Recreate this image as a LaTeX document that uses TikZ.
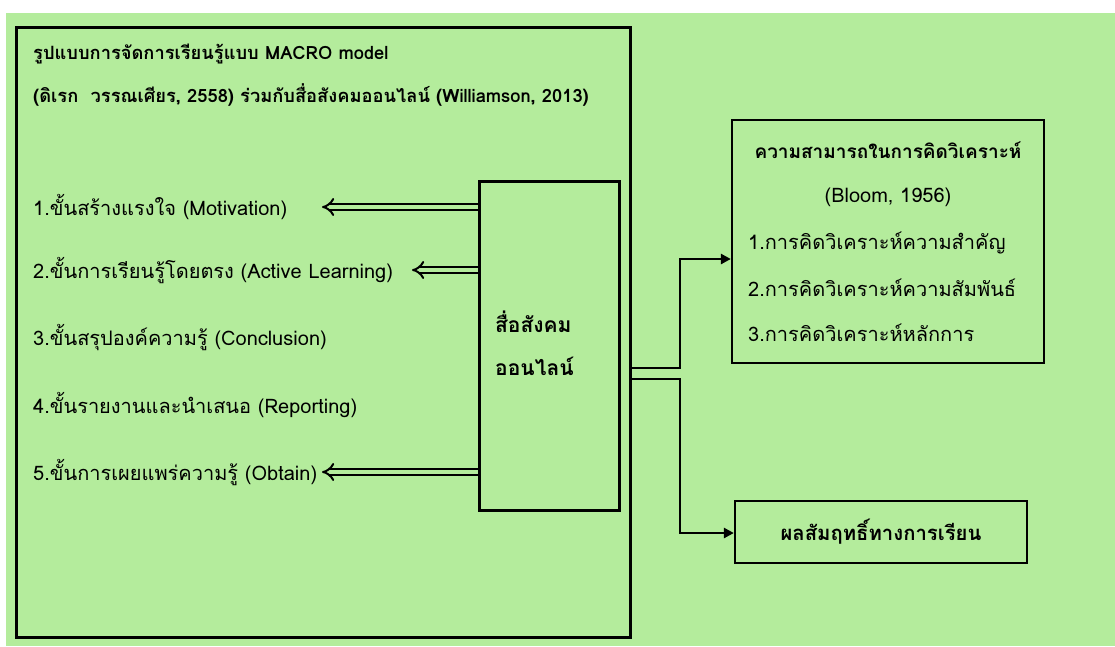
\documentclass[tikz,border=0pt]{standalone}
\usepackage{fontspec}
\setmainfont{Loma}[Script=Thai]
\usetikzlibrary{arrows.meta}
\definecolor{bg}{RGB}{180,236,156}
\tikzset{
  frame/.style={draw=black, line width=3pt, inner sep=0pt},
  thinframe/.style={draw=black, line width=2.3pt, inner sep=0pt},
  txt/.style={anchor=west, inner sep=0pt, font=\fontsize{20}{22}\selectfont},
  btxt/.style={inner sep=0pt, font=\fontsize{19}{21}\selectfont\bfseries},
  ttxt/.style={anchor=west, inner sep=0pt, font=\fontsize{18.3}{20}\selectfont\bfseries},
  mtxt/.style={anchor=west, inner sep=0pt, font=\fontsize{21}{23}\selectfont\bfseries},
  dbl/.style={double=bg, double distance=4pt, line width=2pt, -{Implies}},
  conn/.style={line width=2.6pt, -{Triangle[length=10pt,width=10pt]}}
}
\begin{document}
\begin{tikzpicture}[x=1pt,y=-1pt]
\useasboundingbox (0,0) rectangle (1115,646);
\fill[white] (0,0) rectangle (1115,646);
\fill[bg] (6,13) rectangle (1115,646);
% boxes
\node[frame, minimum width=614pt, minimum height=610pt] (big) at (323,332) {};
\node[frame, minimum width=140pt, minimum height=329pt] (mid) at (549,345.5) {};
\node[thinframe, minimum width=312pt, minimum height=243pt] (box1) at (888,241.5) {};
\node[thinframe, minimum width=292pt, minimum height=62pt] (box2) at (881,532) {};
% title texts
\node[ttxt] (t1) at (33,54) {รูปแบบการจัดการเรียนรู้แบบ MACRO model};
\node[ttxt] (t2) at (33,95) {(ดิเรก\ \ วรรณเศียร, 2558) ร่วมกับสื่อสังคมออนไลน์ (Williamson, 2013)};
% items
\node[txt] (i1) at (33,207) {1.ขั้นสร้างแรงใจ (Motivation)};
\node[txt] (i2) at (33,271) {2.ขั้นการเรียนรู้โดยตรง (Active Learning)};
\node[txt] (i3) at (33,338) {3.ขั้นสรุปองค์ความรู้ (Conclusion)};
\node[txt] (i4) at (33,405) {4.ขั้นรายงานและนำเสนอ (Reporting)};
\node[txt] (i5) at (33,473) {5.ขั้นการเผยแพร่ความรู้ (Obtain)};
% middle text
\node[mtxt] (m1) at (495,322) {สื่อสังคม};
\node[mtxt] (m2) at (495,366) {ออนไลน์};
% box1 texts
\node[btxt] (b1) at (888,150) {ความสามารถในการคิดวิเคราะห์};
\node[txt, anchor=center] (b2) at (888,197) {(Bloom, 1956)};
\node[txt] (b3) at (748,243) {1.การคิดวิเคราะห์ความสำคัญ};
\node[txt] (b4) at (748,288) {2.การคิดวิเคราะห์ความสัมพันธ์};
\node[txt] (b5) at (748,333) {3.การคิดวิเคราะห์หลักการ};
% box2 text
\node[btxt, font=\fontsize{20.3}{22}\selectfont\bfseries] (r1) at (881,532) {ผลสัมฤทธิ์ทางการเรียน};
% double arrows
\coordinate (y1) at (0,207);
\coordinate (y2) at (0,270);
\coordinate (y5) at (0,472);
\coordinate (e1) at (322,207);
\coordinate (e2) at (412,270);
\coordinate (e5) at (322,472);
\draw[dbl] (mid.west |- y1) -- (e1);
\draw[dbl] (mid.west |- y2) -- (e2);
\draw[dbl] (mid.west |- y5) -- (e5);
% connectors
\coordinate (ya) at (0,368);
\coordinate (yb) at (0,379);
\coordinate (ka) at (680,368);
\coordinate (kb) at (680,379);
\coordinate (ta) at (0,259);
\coordinate (tb) at (0,533);
\draw[conn] (big.east |- ya) -- (ka) |- (box1.west |- ta);
\draw[conn] (big.east |- yb) -- (kb) |- (box2.west |- tb);
\end{tikzpicture}
\end{document}
